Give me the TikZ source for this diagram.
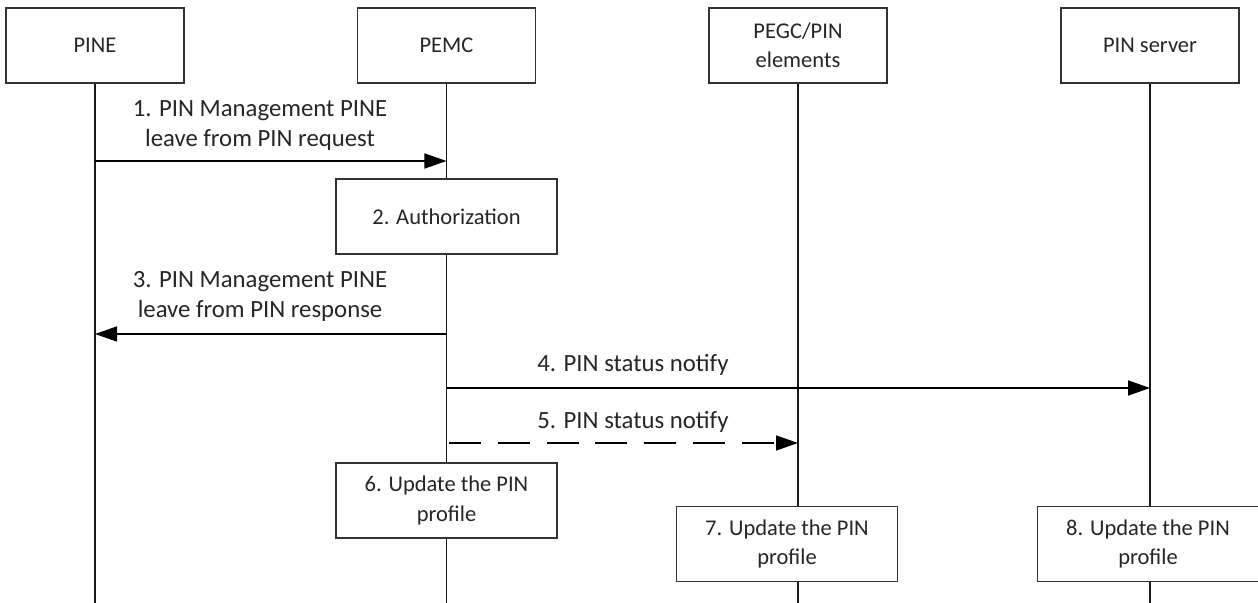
\documentclass[tikz,border=0pt]{standalone}
\usepackage{fontspec}
\setmainfont{Carlito}
\usetikzlibrary{arrows.meta, positioning}
\newcommand{\msgfont}{\fontsize{16}{21}\selectfont}
\newcommand{\arrowfont}{\fontsize{17.6}{21.3}\selectfont}
\tikzset{%
	actor/.style={
		draw=black!80,
		line width=0.8pt,
		fill=white,
		minimum width=4.45cm,
		minimum height=1.875cm,
		align=center,
		text=black!85,
		font=\msgfont
	},
	procbox/.style={
		actor,
		minimum width=5.525cm
	},
	lifeline/.style={
		line width=1.1pt,
		draw=black!90
	},
	msg/.style={
		line width=1.1pt,
		-{Triangle[length=0.55cm, width=0.375cm]}
	},
	msglabel/.style={
		align=center,
		text=black!85,
		font=\arrowfont
	},
}

\begin{document}
\begin{tikzpicture}[x=0.025cm, y=-0.025cm]
	\useasboundingbox (0,0) rectangle (1258,603);

	% Draw the header boxes
	\node[actor] (pine) at (95,45.5) {PINE};
	\node[actor] (pemc) at (446.5,45.5) {PEMC};
	\node[actor] (pegc) at (798,45.5) {PEGC/PIN\\elements};
	\node[actor] (server) at (1150,45.5) {PIN server};

	% Draw the lifelines
	\coordinate (pine end) at (95,603);
	\coordinate (pemc end) at (446.5,603);
	\coordinate (pegc end) at (798,603);
	\coordinate (server end) at (1150,603);
	\draw[lifeline] (pine) -- (pine end);
	\draw[lifeline] (pemc) -- (pemc end);
	\draw[lifeline] (pegc) -- (pegc end);
	\draw[lifeline] (server) -- (server end);

	% Draw the first message
	\coordinate (m1 from) at (95,161);
	\coordinate (m1 to) at (446.5,161);
	\draw[msg] (m1 from) -- (m1 to);
	\node[msglabel] (m1 text) at (260,126) {1. PIN Management PINE\\leave from PIN request};

	% Draw the authorization box
	\node[procbox] (auth) at (446.5,216.5) {2. Authorization};

	% Draw the response
	\coordinate (m3 from) at (446.5,334);
	\coordinate (m3 to) at (95,334);
	\draw[msg] (m3 from) -- (m3 to);
	\node[msglabel] (m3 text) at (260,296) {3. PIN Management PINE\\leave from PIN response};

	% Draw the notifications
	\coordinate (m4 from) at (446.5,388);
	\coordinate (m4 to) at (1150,388);
	\draw[msg] (m4 from) -- (m4 to);
	\node[msglabel] (m4 text) at (633,365) {4. PIN status notify};

	\coordinate (m5 from) at (449,443);
	\coordinate (m5 to) at (798,443);
	\draw[msg, dash pattern=on 0.8cm off 0.42cm] (m5 from) -- (m5 to);
	\node[msglabel] (m5 text) at (633,422) {5. PIN status notify};

	% Draw the update boxes
	\node[procbox] (upd6) at (446.5,500.5) {6. Update the PIN\\profile};
	\node[procbox] (upd7) at (787,544) {7. Update the PIN\\profile};
	\node[procbox] (upd8) at (1148,544) {8. Update the PIN\\profile};

\end{tikzpicture}
\end{document}
